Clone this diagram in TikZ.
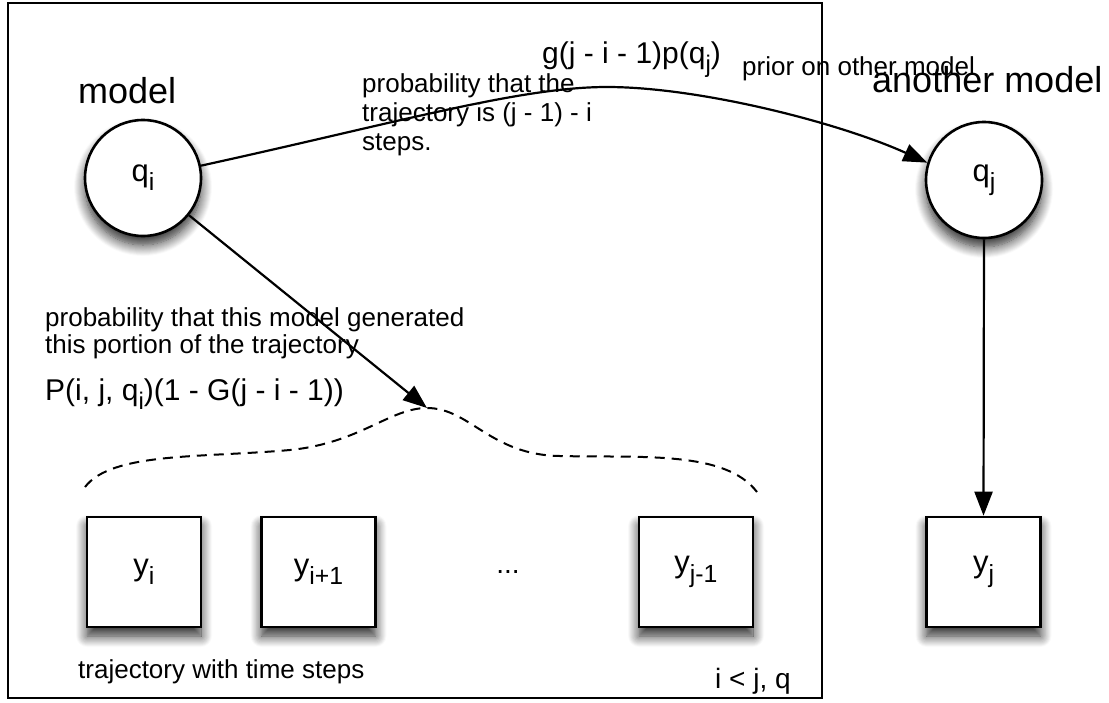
\documentclass[tikz,border=0pt]{standalone}
\usepackage{fontspec}
\usepackage{graphicx}
\setmainfont{Liberation Sans}
\usetikzlibrary{arrows.meta,shadows.blur}
\newcommand{\lsub}[1]{\raisebox{-0.3em}{\scalebox{0.8}{#1}}}
\begin{document}
\begin{tikzpicture}[x=1pt,y=-1pt,
  shd/.style={blur shadow={shadow xshift=0pt, shadow yshift=-9pt, shadow blur radius=11pt, shadow blur steps=12, shadow opacity=85}},
  state/.style={circle, draw, line width=2.6pt, fill=white, minimum size=116pt, inner sep=0pt, font=\fontsize{31}{36}\selectfont, shd},
  obs/.style={rectangle, draw, line width=2.6pt, fill=white, minimum width=114pt, minimum height=110pt, inner sep=0pt, font=\fontsize{31}{36}\selectfont, shd},
  arr/.style={line width=2.2pt, -{Triangle[length=24pt,width=18pt]}},
  desc/.style={font=\fontsize{26}{30}\selectfont, inner sep=0pt, anchor=base west},
  formula/.style={font=\fontsize{30}{36}\selectfont, inner sep=0pt, anchor=base west},
  title/.style={font=\fontsize{36}{42}\selectfont, inner sep=0pt, anchor=base west},
  dashcurve/.style={line width=2pt, dash pattern=on 10pt off 7pt}
]
\useasboundingbox (0,0) rectangle (1109,702);
\node[draw, line width=2.2pt, minimum width=814pt, minimum height=695pt, inner sep=0pt] (plate) at (415,350.5) {};

\node[state] (qi) at (143,178) {q\lsub{i}};
\node[state] (qj) at (984,180) {q\lsub{j}};
\node[obs] (yi) at (144,572) {y\lsub{i}};
\node[obs] (yi1) at (318.5,572) {y\lsub{i+1}};
\node[font=\fontsize{28}{34}\selectfont] (dots) at (508,572) {...};
\node[obs] (yj1) at (696,572) {y\lsub{j-1}};
\node[obs] (yj) at (983.5,572) {y\lsub{j}};

\node[title] (lmodel) at (78,103) {model};
\node[title] (lanother) at (872,92) {another model};
\node[desc] (lprior) at (742,75) {prior on other model};
\node[formula] (lg) at (542,63) {g(j - i - 1)p(q\lsub{j})};
\node[desc] (lt1) at (362,92) {probability that the};
\node[desc] (lt2) at (362,121) {trajectory is (j - 1) - i};
\node[desc] (lt3) at (362,150) {steps.};
\node[desc] (lp1) at (45,326) {probability that this model generated};
\node[desc] (lp2) at (45,353) {this portion of the trajectory};
\node[formula] (lP) at (45,400) {P(i, j, q\lsub{i})(1 - G(j - i - 1))};
\node[desc] (ltraj) at (78,678) {trajectory with time steps};
\node[formula, font=\fontsize{28}{34}\selectfont] (lij) at (715,688) {i < j, q};

\coordinate (dl) at (85,487);
\coordinate (peak) at (427,408);
\coordinate (dr) at (757,492);
\draw[dashcurve] (dl) .. controls (112,452) and (200,458) .. (290,450)
  .. controls (360,443) and (390,408) .. (peak)
  .. controls (470,408) and (490,455) .. (560,456)
  .. controls (640,458) and (725,450) .. (dr);

\draw[arr] (qi.-39) -- (peak);
\draw[arr] (qi.12) .. controls (400,122) and (520,87) .. (607,87)
  .. controls (700,87) and (840,123) .. (qj.163);
\draw[arr] (qj.south) -- (yj.north);
\end{tikzpicture}
\end{document}
